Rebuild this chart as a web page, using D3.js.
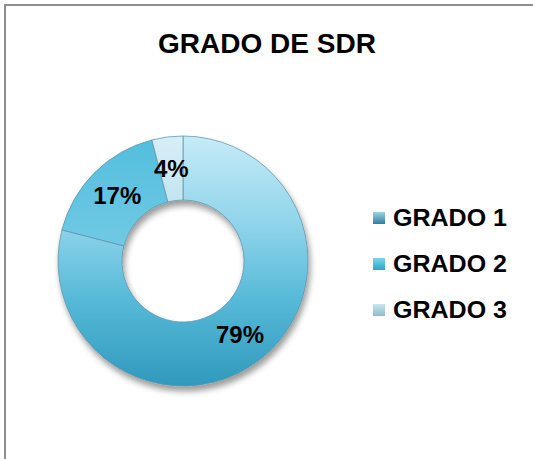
<!DOCTYPE html>
<html>
<head>
<meta charset="utf-8">
<script src="https://cdn.jsdelivr.net/npm/d3@7"></script>
<style>
  body { margin: 0; background: #fff; }
  svg { display: block; font-family: Arial, "Liberation Sans", sans-serif; }
</style>
</head>
<body>
<div class="chart"></div>
<script>
const title = 'GRADO DE SDR';
const categories = ['GRADO 1', 'GRADO 2', 'GRADO 3'];
const values = [79, 17, 4];
const labels = ['79%', '17%', '4%'];

const width = 533;
const height = 459;
const cx = 183, cy = 261;
const outerR = 125, innerR = 61;

const svg = d3.select('.chart').append('svg')
    .attr('width', width)
    .attr('height', height);

const defs = svg.append('defs');

// slice fills, relative to the donut centre (excel bevel look, roughly)
const grads = [
    { id: 'g1', stops: [['0%', '#c6ebf7'], ['35%', '#90d4eb'], ['65%', '#57bad9'], ['100%', '#3099bc']], y1: -outerR, y2: outerR },
    { id: 'g2', stops: [['0%', '#52bedd'], ['100%', '#74cbe5']], y1: -outerR, y2: 0 },
    { id: 'g3', stops: [['0%', '#d6eff8'], ['100%', '#c2e5f1']], y1: -outerR, y2: -innerR }
];
grads.forEach(gr => {
    const lg = defs.append('linearGradient')
        .attr('id', gr.id)
        .attr('gradientUnits', 'userSpaceOnUse')
        .attr('x1', 0).attr('x2', 0)
        .attr('y1', gr.y1).attr('y2', gr.y2);
    gr.stops.forEach(s => lg.append('stop').attr('offset', s[0]).attr('stop-color', s[1]));
});

const legendGrads = [
    { id: 'l1', top: '#9fd3e6', bottom: '#2b7fa0' },
    { id: 'l2', top: '#7fd3ea', bottom: '#2aa6cc' },
    { id: 'l3', top: '#cbe6ef', bottom: '#8fbccc' }
];
legendGrads.forEach(gr => {
    const lg = defs.append('linearGradient')
        .attr('id', gr.id)
        .attr('x1', 0).attr('x2', 0).attr('y1', 0).attr('y2', 1);
    lg.append('stop').attr('offset', '0%').attr('stop-color', gr.top);
    lg.append('stop').attr('offset', '100%').attr('stop-color', gr.bottom);
});

const shadow = defs.append('filter')
    .attr('id', 'shadow')
    .attr('x', '-20%').attr('y', '-20%')
    .attr('width', '140%').attr('height', '140%');
shadow.append('feGaussianBlur').attr('in', 'SourceAlpha').attr('stdDeviation', 3).attr('result', 'blur');
shadow.append('feOffset').attr('in', 'blur').attr('dx', 2).attr('dy', 5).attr('result', 'off');
shadow.append('feComponentTransfer').attr('in', 'off').attr('result', 'soft')
    .append('feFuncA').attr('type', 'linear').attr('slope', 0.4);
const merge = shadow.append('feMerge');
merge.append('feMergeNode').attr('in', 'soft');
merge.append('feMergeNode').attr('in', 'SourceGraphic');

// chart frame (only top and left show in the crop)
svg.append('rect')
    .attr('x', 5).attr('y', 5)
    .attr('width', 700).attr('height', 700)
    .attr('fill', 'none')
    .attr('stroke', '#8e8e8e')
    .attr('stroke-width', 2);

svg.append('text')
    .attr('x', 267)
    .attr('y', 53)
    .attr('text-anchor', 'middle')
    .attr('font-size', 28)
    .attr('font-weight', 'bold')
    .attr('fill', '#000')
    .text(title);

const pie = d3.pie().sort(null).value(d => d);
const arc = d3.arc().innerRadius(innerR).outerRadius(outerR);
const arcs = pie(values);

const g = svg.append('g')
    .attr('transform', `translate(${cx},${cy})`);

g.append('g')
    .attr('filter', 'url(#shadow)')
    .selectAll('path')
    .data(arcs)
    .join('path')
    .attr('d', arc)
    .attr('fill', (d, i) => `url(#g${i + 1})`)
    .attr('stroke', '#5f93a6')
    .attr('stroke-width', 1)
    .attr('stroke-opacity', 0.75);

g.selectAll('text.lbl')
    .data(arcs)
    .join('text')
    .attr('class', 'lbl')
    .attr('x', d => arc.centroid(d)[0])
    .attr('y', d => arc.centroid(d)[1])
    .attr('dy', '0.36em')
    .attr('text-anchor', 'middle')
    .attr('font-size', 24)
    .attr('font-weight', 'bold')
    .attr('fill', '#000')
    .text((d, i) => labels[i]);

const legendY = d3.scalePoint()
    .domain(categories)
    .range([226, 318]);

const legend = svg.append('g').selectAll('g')
    .data(categories)
    .join('g')
    .attr('transform', d => `translate(373,${legendY(d)})`);

legend.append('rect')
    .attr('x', 0)
    .attr('y', -14)
    .attr('width', 12)
    .attr('height', 12)
    .attr('fill', (d, i) => `url(#l${i + 1})`);

legend.append('text')
    .attr('x', 20)
    .attr('y', 0)
    .attr('font-size', 24)
    .attr('font-weight', 'bold')
    .attr('fill', '#000')
    .attr('textLength', 114)
    .attr('lengthAdjust', 'spacingAndGlyphs')
    .text(d => d);
</script>
</body>
</html>
